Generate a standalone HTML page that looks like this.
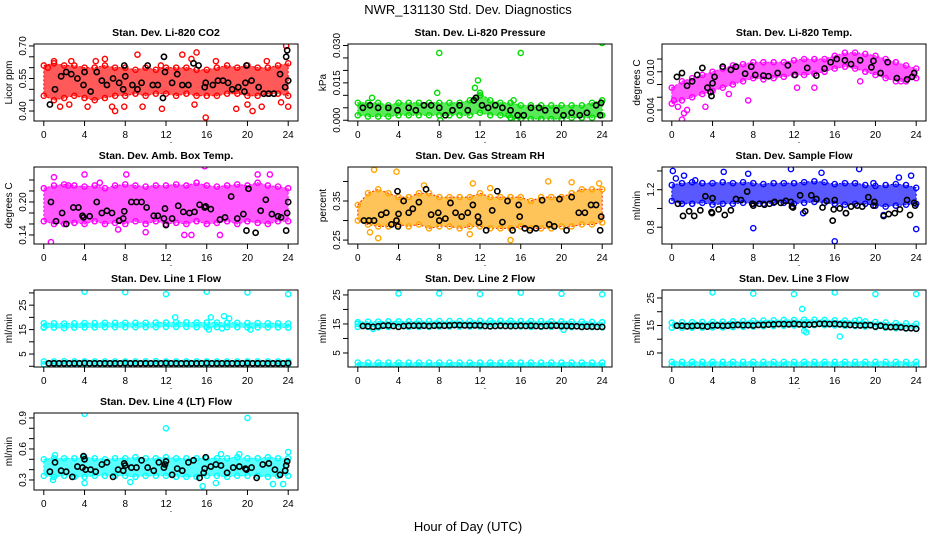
<!DOCTYPE html>
<html><head><meta charset="utf-8"><style>
html,body{margin:0;padding:0;background:#fff;}
svg text{font-family:"Liberation Sans",Arial,sans-serif;fill:#000;}
</style></head><body>
<svg id="chart" width="936" height="540" viewBox="0 0 936 540" xmlns="http://www.w3.org/2000/svg">
<text x="468" y="14" font-size="13" text-anchor="middle">NWR_131130 Std. Dev. Diagnostics</text>
<text x="468" y="531" font-size="13" text-anchor="middle">Hour of Day (UTC)</text>
</svg>
<script>
// ---- data ----
const xTicks = [0,4,8,12,16,20,24];
const panelTitles = ["Stan. Dev. Li-820 CO2","Stan. Dev. Li-820 Pressure","Stan. Dev. Li-820 Temp.","Stan. Dev. Amb. Box Temp.","Stan. Dev. Gas Stream RH","Stan. Dev. Sample Flow","Stan. Dev. Line 1 Flow","Stan. Dev. Line 2 Flow","Stan. Dev. Line 3 Flow","Stan. Dev. Line 4 (LT) Flow"];
const yLabels = ["Licor ppm","kPa","degrees C","degrees C","percent","ml/min","ml/min","ml/min","ml/min","ml/min"];

const co2Lo=[0.47,0.45,0.46,0.47,0.46,0.45,0.46,0.47,0.47,0.48,0.47,0.48,0.48,0.47,0.48,0.47,0.47,0.47,0.48,0.48,0.47,0.47,0.48,0.48,0.47];
const co2Hi=[0.61,0.62,0.61,0.61,0.60,0.60,0.61,0.60,0.60,0.59,0.60,0.59,0.60,0.60,0.60,0.59,0.59,0.60,0.61,0.60,0.61,0.60,0.60,0.61,0.62];
const co2Out=[[0.4,0.60],[1.0,0.63],[1.6,0.42],[2.5,0.43],[2.7,0.63],[4.3,0.42],[5.1,0.63],[6.0,0.64],[6.7,0.42],[7.0,0.40],[7.9,0.42],[9.2,0.66],[9.7,0.42],[11.5,0.61],[11.6,0.41],[13.6,0.66],[14.5,0.64],[15.0,0.67],[14.8,0.43],[15.9,0.37],[16.9,0.63],[18.9,0.41],[20.0,0.43],[20.5,0.40],[21.9,0.63],[23.8,0.70],[24.0,0.42],[23.3,0.44],[21.4,0.42]];
const co2Blk=[[0.6,0.43],[1.1,0.50],[1.7,0.56],[2.2,0.58],[2.7,0.57],[3.3,0.55],[3.9,0.52],[4,0.58],[4.6,0.49],[5.2,0.58],[5.7,0.54],[6.2,0.52],[6.8,0.55],[7.4,0.53],[7.8,0.50],[7.9,0.61],[8.0,0.56],[8.7,0.52],[9.2,0.50],[9.6,0.53],[10.2,0.61],[10.7,0.52],[11.2,0.52],[11.7,0.46],[11.8,0.65],[11.9,0.58],[12.6,0.53],[13.1,0.57],[13.6,0.52],[14.2,0.52],[14.7,0.62],[15.2,0.61],[15.8,0.51],[15.9,0.53],[16.6,0.52],[17.1,0.54],[17.6,0.54],[18.1,0.53],[18.5,0.50],[19.1,0.51],[19.7,0.49],[19.8,0.53],[19.9,0.61],[20.4,0.54],[21.1,0.51],[21.6,0.48],[22.1,0.48],[22.6,0.48],[23.2,0.57],[23.7,0.51],[23.8,0.65],[23.9,0.68],[24.0,0.54]];

const prLo=[0.002,0.0015,0.0015,0.0015,0.002,0.002,0.002,0.002,0.002,0.002,0.002,0.002,0.003,0.002,0.002,0.001,0.0005,0.0005,0.0005,0.0005,0.0005,0.001,0.001,0.001,0.002];
const prHi=[0.007,0.007,0.007,0.006,0.007,0.007,0.007,0.007,0.007,0.007,0.007,0.008,0.011,0.008,0.007,0.007,0.006,0.006,0.006,0.006,0.006,0.006,0.006,0.007,0.008];
const prOut=[[8,0.027],[16,0.027],[24,0.031],[7.8,0.011],[8.1,0.000],[11.5,0.013],[12,0.010],[11.8,0.016],[15.3,0.008],[1.4,0.009],[15.6,0.000],[14.8,0.002]];
const prBlk=[[0.5,0.005],[1.2,0.006],[2,0.005],[3,0.005],[3.9,0.004],[5,0.005],[5.7,0.004],[6.5,0.006],[7.2,0.006],[8,0.005],[8.6,0.002],[9.3,0.004],[10,0.006],[10.8,0.004],[11.4,0.008],[11.6,0.009],[12.2,0.006],[12.8,0.005],[13.5,0.006],[14.2,0.005],[15,0.004],[15.7,0.002],[16.3,0.002],[17,0.005],[17.8,0.005],[18.4,0.004],[19.5,0.004],[20.2,0.002],[21,0.003],[21.8,0.002],[22.5,0.003],[23.4,0.006],[23.8,0.002],[23.9,0.007]];

const tpLo=[0.005,0.0055,0.006,0.0065,0.007,0.0075,0.008,0.0085,0.009,0.0088,0.009,0.0092,0.0095,0.0095,0.0097,0.010,0.0105,0.0108,0.0105,0.010,0.0095,0.009,0.0085,0.0085,0.009];
const tpHi=[0.0075,0.0085,0.009,0.0095,0.010,0.0105,0.011,0.0112,0.0115,0.0115,0.0115,0.0115,0.0118,0.012,0.012,0.012,0.0125,0.013,0.013,0.0128,0.0125,0.012,0.0115,0.011,0.0105];
const tpOut=[[0.2,0.0055],[0.6,0.0045],[1.2,0.0035],[1.0,0.0025],[1.5,0.004],[3.3,0.0045],[5.6,0.0065],[7.5,0.0055],[12.3,0.0075],[14,0.0075],[18.5,0.0085],[22.5,0.0085]];
const tpBlk=[[0.5,0.0092],[1,0.0098],[1.5,0.0078],[2,0.0085],[2.5,0.0095],[3,0.0106],[3.5,0.0075],[3.8,0.0068],[3.9,0.0062],[4,0.0082],[4.2,0.0092],[5,0.0108],[5.8,0.0103],[6.3,0.0108],[7.2,0.0097],[7.8,0.0108],[8.2,0.0095],[9,0.0094],[9.5,0.0093],[10.4,0.0098],[11.4,0.0110],[12.1,0.0095],[13.3,0.0106],[14.2,0.0094],[15,0.0105],[15.6,0.0115],[16.2,0.0120],[17,0.0118],[17.6,0.0112],[18.5,0.0118],[19.6,0.0107],[19.8,0.0117],[20.5,0.0098],[21.2,0.0115],[22.1,0.0090],[23.1,0.0088],[23.6,0.0092],[23.8,0.0098]];

const abLo=[0.165,0.16,0.16,0.162,0.16,0.165,0.16,0.162,0.16,0.165,0.16,0.165,0.16,0.162,0.16,0.165,0.16,0.162,0.165,0.16,0.165,0.162,0.16,0.165,0.165];
const abHi=[0.225,0.23,0.232,0.23,0.228,0.23,0.225,0.23,0.232,0.23,0.228,0.23,0.23,0.232,0.23,0.235,0.23,0.228,0.23,0.232,0.23,0.235,0.23,0.228,0.225];
const abOut=[[0.7,0.127],[1,0.245],[4,0.25],[8.1,0.25],[15.8,0.265],[13.8,0.14],[14.5,0.14],[17.3,0.14],[21,0.25],[22.2,0.25],[5.5,0.235],[2.4,0.23],[10,0.145],[7.3,0.15]];
const abBlk=[[0.7,0.20],[1.2,0.165],[1.8,0.18],[2.2,0.16],[2.9,0.19],[3.4,0.19],[3.8,0.175],[3.9,0.172],[4.5,0.174],[5.2,0.20],[5.7,0.18],[6.2,0.184],[6.7,0.18],[7.4,0.166],[7.8,0.17],[7.9,0.183],[8.6,0.20],[9.1,0.20],[9.6,0.20],[10.1,0.19],[10.8,0.175],[11.2,0.175],[11.8,0.17],[11.9,0.188],[12,0.158],[12.6,0.17],[13.2,0.193],[13.7,0.182],[14.3,0.18],[14.8,0.182],[15.3,0.195],[15.8,0.19],[15.9,0.192],[16.4,0.187],[17.3,0.168],[17.8,0.172],[18.4,0.21],[19,0.17],[19.6,0.178],[19.9,0.148],[20.1,0.224],[20.8,0.144],[21.3,0.184],[21.8,0.204],[22.4,0.178],[23,0.174],[23.3,0.172],[23.8,0.148],[23.9,0.18],[24,0.20]];

const rhLo=[0.30,0.29,0.285,0.285,0.29,0.285,0.29,0.28,0.285,0.285,0.28,0.285,0.285,0.28,0.28,0.28,0.285,0.28,0.28,0.28,0.285,0.285,0.29,0.29,0.295];
const rhHi=[0.34,0.37,0.38,0.37,0.36,0.36,0.37,0.37,0.36,0.36,0.36,0.36,0.37,0.36,0.36,0.36,0.36,0.35,0.36,0.36,0.36,0.37,0.38,0.38,0.38];
const rhOut=[[1.6,0.43],[3.8,0.425],[1.2,0.27],[2,0.255],[11.3,0.395],[13,0.383],[15,0.25],[18.7,0.40],[21,0.398],[23.7,0.395],[11,0.265],[6.5,0.39]];
const rhBlk=[[0.6,0.30],[1.1,0.30],[1.6,0.30],[2.3,0.315],[2.8,0.32],[3.3,0.29],[3.8,0.30],[3.9,0.375],[3.95,0.285],[4,0.317],[4.5,0.35],[5,0.32],[5.4,0.33],[6,0.347],[6.7,0.38],[7.2,0.315],[7.9,0.32],[8,0.30],[8.6,0.305],[9.1,0.345],[9.6,0.32],[10.2,0.31],[10.8,0.32],[11.3,0.34],[11.8,0.31],[11.9,0.295],[12.6,0.275],[13.2,0.326],[13.7,0.375],[14.2,0.296],[14.7,0.35],[15.2,0.275],[15.8,0.34],[15.9,0.31],[16.4,0.28],[16.9,0.275],[17.5,0.28],[18.1,0.352],[18.8,0.29],[19.3,0.285],[19.8,0.355],[20.5,0.275],[21,0.36],[21.7,0.32],[22.3,0.32],[22.9,0.34],[23.4,0.34],[23.8,0.275],[23.9,0.31]];

const sfLo=[1.08,1.05,1.05,1.06,1.04,1.05,1.05,1.06,1.05,1.05,1.06,1.06,1.05,1.06,1.07,1.06,1.05,1.04,1.05,1.05,1.03,1.02,1.03,1.04,1.05];
const sfHi=[1.25,1.27,1.28,1.27,1.27,1.28,1.27,1.28,1.27,1.26,1.27,1.27,1.27,1.28,1.29,1.28,1.26,1.27,1.27,1.25,1.24,1.25,1.26,1.25,1.22];
const sfOut=[[0.1,1.4],[0.4,1.32],[1.2,1.35],[2.3,1.3],[5.1,1.39],[7.5,1.37],[8,0.79],[11.7,1.42],[12.9,0.95],[14.7,1.38],[16,0.65],[18.4,1.42],[19.8,1.27],[23.5,1.35],[24,0.78],[20.8,0.93],[22.3,1.33],[17.1,0.95]];
const sfBlk=[[0.6,1.05],[1.1,0.92],[1.7,0.97],[2.2,0.92],[2.8,0.98],[3.3,1.13],[3.9,0.96],[3.95,0.95],[4,1.11],[4.6,0.99],[5.2,0.93],[5.8,0.98],[6.3,1.1],[6.8,1.09],[7.4,1.18],[7.9,1.05],[8,1.03],[8.6,1.05],[9.1,1.04],[9.6,1.05],[10.1,1.07],[10.7,1.06],[11.2,1.08],[11.7,1.07],[11.8,1.02],[11.9,1.01],[12.6,1.14],[13.1,0.97],[13.7,1.14],[14.2,1.1],[14.8,1.01],[15.2,1.08],[15.8,0.87],[15.9,0.99],[16,1.09],[16.5,1.0],[17.1,0.95],[17.6,1.02],[18.2,1.03],[18.7,1.02],[19.3,1.12],[19.8,1.03],[19.9,1.07],[20.8,0.92],[21.3,0.94],[21.9,0.95],[22.4,0.99],[23.1,1.09],[23.4,0.93],[23.8,1.06],[23.9,1.03]];

const l1Lo=[15.8,15.8,15.6,15.8,15.9,15.9,16.0,16.0,16.0,16.0,16.0,16.0,16.1,16.1,16.1,16.0,16.0,16.0,16.0,16.0,15.9,15.9,15.9,15.9,15.8];
const l1Hi=[17.6,17.6,17.5,17.6,17.7,17.7,17.8,17.8,17.8,17.8,17.8,17.9,17.9,18.0,18.0,17.9,17.9,17.9,17.8,17.8,17.7,17.7,17.6,17.6,17.5];
const l1Lo2=[0.8,0.8,0.8,0.8,0.8,0.8,0.8,0.8,0.8,0.8,0.8,0.8,0.8,0.8,0.8,0.8,0.8,0.8,0.8,0.8,0.8,0.8,0.8,0.8,0.8];
const l1Hi2=[2.0,2.0,2.1,2.0,2.0,2.0,2.0,2.0,2.0,2.0,2.0,2.1,2.0,2.0,2.0,2.0,2.0,2.0,2.0,2.0,2.0,2.0,2.0,2.0,2.0];
const l1Out=[[4,30.5],[8,30.3],[12,29.5],[16,30.5],[20,30.2],[24,29.5],[12.9,20],[16.4,20],[17.7,20.5],[18.2,19.5],[16.2,15],[20.3,15],[17.5,15.5],[0,16]];
const l1Blk=[[0.5,1.2],[1,1.2],[1.5,1.2],[2,1.2],[2.5,1.2],[3,1.2],[3.5,1.2],[4,1.3],[4.5,1.2],[5,1.2],[5.5,1.2],[6,1.2],[6.5,1.2],[7,1.2],[7.5,1.2],[8,1.3],[8.5,1.2],[9,1.2],[9.5,1.2],[10,1.2],[10.5,1.2],[11,1.2],[11.5,1.2],[12,1.3],[12.5,1.2],[13,1.2],[13.5,1.2],[14,1.2],[14.5,1.2],[15,1.2],[15.5,1.2],[16,1.3],[16.5,1.2],[17,1.2],[17.5,1.2],[18,1.2],[18.5,1.2],[19,1.2],[19.5,1.2],[20,1.3],[20.5,1.2],[21,1.2],[21.5,1.2],[22,1.2],[22.5,1.2],[23,1.2],[23.5,1.2],[24,1.3]];

const l2Lo=[14.0,14.0,13.8,14.0,14.0,14.0,14.0,14.0,14.1,14.1,14.1,14.1,14.1,14.1,14.2,14.1,14.1,14.0,14.0,14.0,14.0,13.9,13.9,13.9,13.8];
const l2Hi=[15.6,15.8,15.8,15.9,15.9,15.9,16.0,16.0,16.0,16.0,16.0,16.0,16.1,16.1,16.1,16.1,16.0,16.0,16.0,15.9,15.9,15.8,15.8,15.7,15.6];
const l2Lo2=[0.4,0.4,0.4,0.4,0.4,0.4,0.4,0.4,0.4,0.4,0.4,0.4,0.4,0.4,0.4,0.4,0.4,0.4,0.4,0.4,0.4,0.4,0.4,0.4,0.4];
const l2Hi2=[1.7,1.7,1.7,1.7,1.7,1.7,1.7,1.7,1.7,1.7,1.7,1.7,1.7,1.7,1.7,1.7,1.7,1.7,1.7,1.7,1.7,1.7,1.7,1.7,1.7];
const l2Out=[[4,25.5],[8,25.5],[12,25.3],[16,25.8],[20,25.4],[24,25.2],[1.5,13.3],[20.2,13],[0,15]];
const l2Blk=[[0.5,14.3],[1,14.2],[1.5,14.0],[2,14.2],[2.5,14.4],[3,14.5],[3.5,14.3],[4,14.0],[4.5,14.3],[5,14.4],[5.5,14.4],[6,14.4],[6.5,14.4],[7,14.3],[7.5,14.4],[8,14.5],[8.5,14.4],[9,14.5],[9.5,14.6],[10,14.6],[10.5,14.5],[11,14.5],[11.5,14.5],[12,14.5],[12.5,14.3],[13,14.2],[13.5,14.3],[14,14.4],[14.5,14.3],[15,14.3],[15.5,14.3],[16,14.4],[16.5,14.3],[17,14.4],[17.5,14.3],[18,14.2],[18.5,14.3],[19,14.4],[19.5,14.4],[20,14.3],[20.5,14.3],[21,14.2],[21.5,14.2],[22,14.0],[22.5,14.1],[23,14.1],[23.5,14.0],[24,14.0]];

const l3Lo=[14.2,14.2,14.2,14.2,14.3,14.3,14.4,14.5,14.6,14.7,14.8,14.9,15.0,15.0,15.1,15.1,15.0,14.9,14.8,14.6,14.4,14.2,14.0,13.9,13.8];
const l3Hi=[16.0,16.2,16.2,16.3,16.3,16.4,16.5,16.6,16.7,16.8,16.9,17.0,17.0,17.1,17.1,17.0,16.9,16.8,16.7,16.5,16.3,16.1,15.9,15.8,15.6];
const l3Lo2=[0.4,0.4,0.4,0.4,0.4,0.4,0.4,0.4,0.4,0.4,0.4,0.4,0.4,0.4,0.4,0.4,0.4,0.4,0.4,0.4,0.4,0.4,0.4,0.4,0.4];
const l3Hi2=[1.8,1.8,1.8,1.8,1.8,1.8,1.8,1.8,1.8,1.8,1.8,1.8,1.8,1.8,1.8,1.8,1.8,1.8,1.8,1.8,1.8,1.8,1.8,1.8,1.8];
const l3Out=[[4,27],[8,26.6],[12,26.4],[16,27],[20,26.4],[24,26.4],[12.8,21],[13,13],[13.2,12.5],[16.5,11],[18.4,17]];
const l3Blk=[[0.5,14.9],[1,14.9],[1.5,14.7],[2,14.8],[2.5,14.9],[3,14.8],[3.5,14.6],[4,15.0],[4.5,15.0],[5,14.9],[5.5,14.9],[6,15.1],[6.5,15.2],[7,15.1],[7.5,15.1],[8,15.0],[8.5,15.2],[9,15.2],[9.5,15.3],[10,15.4],[10.5,15.5],[11,15.5],[11.5,15.4],[12,15.6],[12.5,15.4],[13,15.3],[13.5,15.3],[14,15.4],[14.5,15.6],[15,15.6],[15.5,15.5],[16,15.6],[16.5,15.4],[17,15.3],[17.5,15.2],[18,15.1],[18.5,15.0],[19,15.1],[19.5,15.1],[20,14.6],[20.5,14.9],[21,14.5],[21.5,14.4],[22,14.4],[22.5,14.3],[23,14.0],[23.5,14.0],[24,13.8]];

const l4Lo=[0.34,0.33,0.34,0.33,0.33,0.34,0.34,0.34,0.34,0.33,0.34,0.34,0.34,0.33,0.33,0.33,0.34,0.34,0.33,0.34,0.34,0.34,0.33,0.34,0.34];
const l4Hi=[0.50,0.51,0.51,0.51,0.52,0.51,0.50,0.51,0.51,0.52,0.51,0.51,0.52,0.51,0.51,0.51,0.51,0.51,0.51,0.52,0.51,0.51,0.52,0.51,0.51];
const l4Out=[[4,0.94],[12,0.80],[20,0.90],[24,0.57],[4,0.27],[15.6,0.24],[16.9,0.27],[22.5,0.26],[23.5,0.26],[0.9,0.30],[8.5,0.28],[17.4,0.55],[19.2,0.55],[1.1,0.54]];
const l4Blk=[[0.6,0.38],[1.1,0.47],[1.7,0.39],[2.2,0.38],[2.8,0.33],[3.3,0.43],[3.8,0.42],[3.9,0.53],[4,0.50],[4.1,0.40],[4.6,0.40],[5.1,0.38],[5.7,0.45],[6.2,0.47],[6.8,0.33],[7.3,0.40],[7.8,0.39],[7.9,0.46],[8,0.44],[8.6,0.42],[9.1,0.42],[9.6,0.49],[10.2,0.42],[10.8,0.39],[11.3,0.47],[11.8,0.42],[11.9,0.45],[12,0.48],[12.6,0.35],[13.1,0.41],[13.6,0.39],[14.2,0.47],[14.7,0.49],[15.3,0.32],[15.7,0.37],[15.8,0.41],[15.9,0.52],[16.4,0.43],[16.9,0.45],[17.4,0.44],[18,0.37],[18.6,0.42],[19.2,0.43],[19.8,0.41],[19.9,0.40],[20.4,0.42],[20.9,0.32],[21.5,0.45],[22.1,0.46],[22.7,0.40],[23.2,0.35],[23.7,0.39],[23.8,0.44],[23.9,0.48]];

// ---- layout / rendering ----
const NS="http://www.w3.org/2000/svg";
const svg=document.getElementById('chart');
const colLeft=[34,348,662], rowTop=[44,167,290,413], BW=264, BH=77;
const panels=[
 {dom:[0.354,0.709],ticks:[0.40,0.45,0.50,0.55,0.60,0.65,0.70],lab:[0.40,0.55,0.70],fmt:2,col:"#ff0000",bands:[[co2Lo,co2Hi]],out:co2Out,blk:co2Blk},
 {dom:[-0.0003,0.0306],ticks:[0,0.005,0.010,0.015,0.020,0.025,0.030],lab:[0,0.015,0.030],fmt:3,col:"#00dd00",bands:[[prLo,prHi]],out:prOut,blk:prBlk},
 {dom:[0.00227,0.01436],ticks:[0.004,0.006,0.008,0.010,0.012],lab:[0.004,0.010],fmt:3,col:"#ff00ff",bands:[[tpLo,tpHi]],out:tpOut,blk:tpBlk},
 {dom:[0.1236,0.2636],ticks:[0.14,0.16,0.18,0.20,0.22,0.24],lab:[0.14,0.20],fmt:2,col:"#ff00ff",bands:[[abLo,abHi]],out:abOut,blk:abBlk},
 {dom:[0.24,0.437],ticks:[0.25,0.30,0.35,0.40],lab:[0.25,0.35],fmt:2,col:"#ffa500",edge:"#ff2000",bands:[[rhLo,rhHi]],out:rhOut,blk:rhBlk},
 {dom:[0.621,1.442],ticks:[0.8,1.0,1.2,1.4],lab:[0.8,1.2],fmt:1,col:"#0000ff",bands:[[sfLo,sfHi]],out:sfOut,blk:sfBlk},
 {dom:[-0.3,31.2],ticks:[0,5,10,15,20,25,30],lab:[5,15,25],fmt:0,col:"#00ffff",bands:[[l1Lo,l1Hi],[l1Lo2,l1Hi2]],out:l1Out,blk:l1Blk},
 {dom:[0.17,26.7],ticks:[5,10,15,20,25],lab:[5,15,25],fmt:0,col:"#00ffff",bands:[[l2Lo,l2Hi],[l2Lo2,l2Hi2]],out:l2Out,blk:l2Blk},
 {dom:[-0.1,27.9],ticks:[5,10,15,20,25],lab:[5,15,25],fmt:0,col:"#00ffff",bands:[[l3Lo,l3Hi],[l3Lo2,l3Hi2]],out:l3Out,blk:l3Blk},
 {dom:[0.203,0.948],ticks:[0.3,0.4,0.5,0.6,0.7,0.8,0.9],lab:[0.3,0.6,0.9],fmt:1,col:"#00ffff",bands:[[l4Lo,l4Hi]],out:l4Out,blk:l4Blk}
];
function mk(tag,attrs,parent){const e=document.createElementNS(NS,tag);for(const k in attrs)e.setAttribute(k,attrs[k]);(parent||svg).appendChild(e);return e;}

panels.forEach((p,i)=>{
  const L=colLeft[i%3], T=rowTop[Math.floor(i/3)];
  const g=mk('g',{});
  
  
  const xs=h=>L+9.8+h*(BW-19.6)/24;
  const ys=v=>T+BH-(v-p.dom[0])/(p.dom[1]-p.dom[0])*BH;
  const t=mk('text',{x:L+BW/2,y:T-8,'font-size':10.5,'font-weight':'bold','text-anchor':'middle'},g);
  t.textContent=panelTitles[i];
  
  
  const cp=mk('clipPath',{id:'c'+i},g);
  mk('rect',{x:L,y:T,width:BW,height:BH},cp);
  const pg=mk('g',{'clip-path':'url(#c'+i+')'},g);
  p.bands.forEach(b=>{
    const lo=b[0],hi=b[1];
    let d='';
    hi.forEach((v,h)=>{d+=(h?'L':'M')+xs(h).toFixed(1)+','+ys(v).toFixed(1);});
    for(let h=lo.length-1;h>=0;h--)d+='L'+xs(h).toFixed(1)+','+ys(lo[h]).toFixed(1);
    const band=mk('path',{d:d+'Z',fill:p.col,'fill-opacity':0.65,stroke:p.edge||p.col,'stroke-width':1,'stroke-dasharray':'2 2'},pg);
    
    
    lo.forEach((v,h)=>{
      const c1=mk('circle',{cx:xs(h),cy:ys(v),r:2.6,fill:'none',stroke:p.col,'stroke-width':1.4},pg);
      
      
      const c2=mk('circle',{cx:xs(h),cy:ys(hi[h]),r:2.6,fill:'none',stroke:p.col,'stroke-width':1.4},pg);
      
      
    });
  });
  p.out.forEach(o=>{
    const c=mk('circle',{cx:xs(o[0]),cy:ys(o[1]),r:2.6,fill:'none',stroke:p.col,'stroke-width':1.4},pg);
    
    
  });
  p.blk.forEach(o=>{
    const c=mk('circle',{cx:xs(o[0]),cy:ys(o[1]),r:2.6,fill:'none',stroke:'#000','stroke-width':1.6},pg);
    
    
  });
  const box=mk('rect',{x:L,y:T,width:BW,height:BH,fill:'none',stroke:'#000','stroke-width':1},g);
  
  
  xTicks.forEach(h=>{
    mk('line',{x1:xs(h),x2:xs(h),y1:T+BH,y2:T+BH+5,stroke:'#000'},g);
    const tl=mk('text',{x:xs(h),y:T+BH+17,'font-size':10,'text-anchor':'middle'},g);
    tl.textContent=h;
    
    
  });
  const dot=mk('text',{x:L+BW/2+5,y:T+BH+22,'font-size':9,'text-anchor':'middle'},g);
  dot.textContent='.';
  p.ticks.forEach(v=>{mk('line',{x1:L-5,x2:L,y1:ys(v),y2:ys(v),stroke:'#000'},g);});
  p.lab.forEach(v=>{
    const yl=mk('text',{x:0,y:0,'font-size':10,'text-anchor':'middle',transform:'translate('+(L-8)+','+ys(v)+') rotate(-90)'},g);
    yl.textContent=v.toFixed(p.fmt);
    
    
  });
  const yt=mk('text',{x:0,y:0,'font-size':10,'text-anchor':'middle',transform:'translate('+(L-22)+','+(T+BH/2)+') rotate(-90)'},g);
  yt.textContent=yLabels[i];
  
  
});
</script>
</body></html>
